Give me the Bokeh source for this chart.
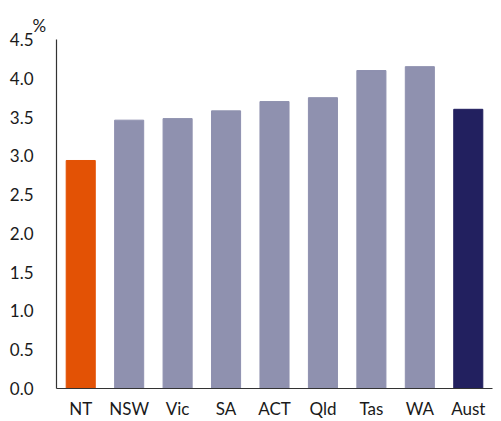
from bokeh.plotting import figure
from bokeh.models import ColumnDataSource, Range1d, FixedTicker, CustomJSTickFormatter, Title
from bokeh.embed import file_html
from bokeh.resources import INLINE

categories = ["NT", "NSW", "Vic", "SA", "ACT", "Qld", "Tas", "WA", "Aust"]
values = [2.94, 3.46, 3.48, 3.58, 3.70, 3.75, 4.10, 4.15, 3.60]
colors = ["#E35205", "#8F91AF", "#8F91AF", "#8F91AF", "#8F91AF", "#8F91AF", "#8F91AF", "#8F91AF", "#22205F"]
y_ticks = [0.0, 0.5, 1.0, 1.5, 2.0, 2.5, 3.0, 3.5, 4.0, 4.5]

src = ColumnDataSource(dict(cat=categories, val=values, color=colors))

p = figure(x_range=categories, y_range=Range1d(0, 4.5), width=501, height=421,
           output_backend="svg", toolbar_location=None,
           min_border_left=56, min_border_top=39, min_border_right=9, min_border_bottom=0)
p.vbar(x="cat", top="val", width=0.6, color="color", source=src)

p.outline_line_color = None
p.xgrid.grid_line_color = None
p.ygrid.grid_line_color = None
p.background_fill_color = "white"

p.yaxis.ticker = FixedTicker(ticks=y_ticks)
p.yaxis.formatter = CustomJSTickFormatter(code="return tick.toFixed(1);")
for ax in (p.xaxis, p.yaxis):
    ax.major_tick_line_color = None
    ax.minor_tick_line_color = None
    ax.major_label_text_font = "Lato"
    ax.major_label_text_font_size = "17px"
    ax.major_label_text_color = "#1a1a1a"
    ax.axis_line_color = "#333333"
    ax.axis_line_width = 1.2
p.yaxis.major_label_standoff = 17
p.xaxis.major_label_standoff = 3
p.xaxis.major_label_text_line_height = 1.0

p.add_layout(Title(text="%", align="left", offset=-24, text_font="Lato",
                   text_font_size="17px", text_font_style="normal",
                   text_color="#1a1a1a", standoff=8), "above")

open("out.html", "w").write(file_html(p, INLINE))
